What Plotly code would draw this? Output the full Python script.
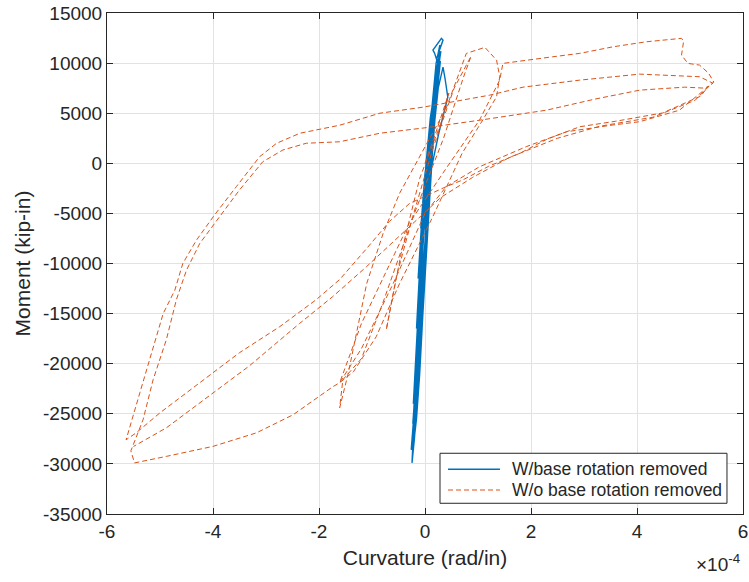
import plotly.graph_objects as go

# Curvature in units of 1e-4 rad/in, moment in kip-in
curv_with_removed = [
    0.03, 0.10, 0.16, 0.09, 0.00, -0.05, -0.08, -0.02, 0.06, 0.12, 0.18,
    0.12, 0.04, -0.03, -0.08, -0.12, -0.13, -0.07, 0.02, 0.09, 0.15, 0.22, 0.26,
    0.20, 0.10, 0.02, -0.04, -0.09, -0.13, -0.16, -0.10, -0.02, 0.05, 0.11, 0.17, 0.23, 0.27, 0.29,
    0.22, 0.12, 0.04, -0.03, -0.08, -0.13, -0.17, -0.19, -0.13, -0.06, 0.01, 0.07, 0.13, 0.19, 0.24,
    0.18, 0.15, 0.31, 0.34, 0.22, 0.28,
    0.24, 0.14, 0.05, -0.02, -0.07, -0.12, -0.16, -0.20, -0.23, -0.245,
    -0.20, -0.14, -0.08, -0.02, 0.04, 0.10, 0.17, 0.25, 0.34, 0.38, 0.43, 0.38,
    0.26, 0.12, 0.04, -0.03, -0.09, -0.14, -0.18, -0.21,
    -0.16, -0.10, -0.04, 0.02, 0.08, 0.14, 0.21, 0.26, 0.29,
    0.20, 0.11, 0.03, -0.04, -0.10, -0.15, -0.20, -0.22,
    -0.16, -0.09, -0.02, 0.05, 0.11, 0.17, 0.23, 0.28,
    0.21, 0.13, 0.05, -0.02, -0.08, -0.13, -0.18, -0.21, -0.23,
    -0.18, -0.12, -0.05, 0.01, 0.07, 0.13, 0.19, 0.25, 0.30,
    0.24, 0.16, 0.07, -0.01, -0.06, -0.11, -0.16, -0.20, -0.24, -0.26,
    -0.21, -0.15, -0.09, -0.03, 0.03, 0.09, 0.16, 0.22, 0.26,
    0.19, 0.09, 0.00, -0.06, -0.11, -0.15, -0.18,
    -0.12, -0.05, 0.02, 0.09, 0.15, 0.20, 0.16, 0.08, 0.02,
]
moment_with_removed = [
    0, 2000, 4000, 2000, -1000, -4000, -6500, -4000, -1000, 2500, 5500,
    4000, 1000, -3000, -7000, -10000, -11500, -9000, -5000, -1000, 3000, 6500, 9000,
    8000, 4500, 0, -4500, -9500, -13500, -16500, -14000, -9500, -5000, -500, 4000, 8000, 10000, 11000,
    9500, 5000, 500, -4500, -10000, -15000, -19000, -21500, -19000, -14000, -9000, -4000, 1000, 6000, 10000,
    11000, 11300, 12470, 12300, 10470, 9800,
    8000, 4000, -500, -5000, -10000, -15500, -20000, -24000, -27500, -29900,
    -27500, -23500, -18000, -12000, -6500, -1500, 3500, 7500, 9600, 8400, 6600, 5500,
    3000, -500, -5000, -10500, -16000, -21000, -25000, -27800,
    -25500, -21000, -15000, -9500, -4000, 1000, 6000, 9000, 10200,
    8500, 4000, -500, -6000, -12000, -17500, -22000, -24000,
    -22000, -17000, -11500, -6000, -1000, 4000, 8500, 11800,
    10000, 5500, 1000, -4000, -10000, -15500, -21000, -24500, -26000,
    -24500, -20000, -14000, -8500, -3000, 2000, 6000, 9500, 11200,
    9500, 5000, 0, -5500, -11000, -16500, -21000, -24500, -27000, -28600,
    -26000, -21500, -16000, -10500, -5000, 500, 5500, 9000, 10500,
    8000, 2500, -3500, -9000, -14500, -19000, -22000,
    -18000, -12000, -6000, -500, 4000, 7500, 5500, 1000, -2500,
]

curv_without_removed = [
    # small and medium cycles
    0.00, 0.20, 0.45, 0.30, -0.10, -0.45, -0.73, -0.54, -0.23, 0.15, 0.55, 0.87, 0.72,
    0.35, -0.20, -0.80, -1.20, -1.55, -1.61, -1.45, -1.10, -0.79, -0.48, -0.10, 0.40,
    0.78, 1.13, 1.35, 1.41, 1.35, 1.09, 0.70, 0.15, -0.48, -0.92, -1.35, -1.61,
    -1.20, -0.30, 0.40,
    # first large positive excursion
    1.03, 1.22, 1.41, 1.47, 1.91, 2.41, 2.92, 3.55, 4.18, 4.84, 4.88, 4.84, 4.96,
    5.18, 5.35, 5.45, 5.30,
    4.80, 4.05, 3.54, 2.67, 1.91, 1.03, 0.40,
    0.00, -0.60, -1.20, -1.61,
    # first large negative excursion
    -1.74, -2.49, -3.18, -4.00, -4.88, -5.48, -5.55, -5.45,
    -5.32, -5.13, -4.88, -4.69, -4.50, -4.25, -3.87, -3.50, -3.06, -2.68, -2.24, -1.61,
    -0.85, 0.09, 1.03, 2.29, 3.20, 4.05, 4.90, 5.28, 5.35, 5.20,
    4.48, 3.60, 2.92, 2.30, 1.79, 1.20, 0.71, 0.40,
    -0.29, -0.67, -1.10, -1.61, -2.05, -2.74, -3.50, -4.25, -5.00, -5.45, -5.64,
    -5.38, -5.16, -4.94, -4.72, -4.57, -4.31, -3.97, -3.56, -3.12, -2.80, -2.36, -1.61,
    -0.85, -0.04, 0.71, 1.22, 1.85, 2.92, 4.05, 5.18, 5.43, 5.28,
    5.10, 4.30, 3.30, 2.50, 1.60, 0.90, 0.30,
    -0.50, -1.10, -1.74, -2.37, -3.31, -4.10, -4.88, -5.50,
]
moment_without_removed = [
    0, 3000, 7000, 4000, -1500, -9000, -16600, -11300, -5300, 1500, 7500, 10700, 8500,
    2500, -5000, -14000, -19500, -21600, -24400, -21000, -12000, -7000, -3000, 700, 5500,
    10970, 11570, 10300, 8640, 6640, 4320, 1000, -5300, -12000, -17300, -20800, -21900,
    -16000, -6000, -500,
    4330, 6320, 8310, 9970, 10300, 10630, 10970, 11630, 12130, 12470, 12200, 10800, 9970,
    9800, 9000, 8100, 7450,
    5300, 4150, 3820, 3150, 1660, -340, -2330,
    -5000, -12000, -18500, -21900,
    -22300, -25100, -26900, -28250, -29250, -29900, -28700, -27300,
    -25600, -21600, -17600, -13600, -10660, -8000, -5320, -2660, 160, 1330, 2000, 2150,
    3000, 3600, 4300, 5300, 6400, 7300, 7600, 7500, 7700, 6700,
    5020, 4200, 3650, 2400, 1000, -300, -1670, -2330,
    -4000, -5800, -8500, -11600, -13600, -16300, -18900, -21900, -24900, -26900, -27600,
    -22900, -18900, -15000, -12660, -10000, -7650, -5150, -2330, 660, 2000, 3000, 3800,
    5000, 5600, 6300, 6800, 7600, 8300, 8900, 8640, 8000, 7300,
    6300, 4600, 3700, 2500, 600, -1400, -3400,
    -7400, -10300, -13300, -16000, -20200, -23300, -26400, -28260,
]

x_ticks = [-6, -4, -2, 0, 2, 4, 6]
y_ticks = [-35000, -30000, -25000, -20000, -15000, -10000, -5000, 0, 5000, 10000, 15000]
series_names = ["W/base rotation removed", "W/o base rotation removed"]

BLUE = "#0072BD"
ORANGE = "#D95319"
INK = "#262626"
FONT = "Liberation Sans, Arial, sans-serif"

fig = go.Figure()
fig.add_trace(go.Scatter(
    x=curv_with_removed, y=moment_with_removed, mode="lines",
    name=series_names[0], line=dict(color=BLUE, width=1.4),
))
fig.add_trace(go.Scatter(
    x=curv_without_removed, y=moment_without_removed, mode="lines",
    name=series_names[1], line=dict(color=ORANGE, width=1, dash="5px,3px"),
))

axis_common = dict(
    showline=True, linecolor=INK, linewidth=1, mirror="ticks",
    ticks="inside", ticklen=6, tickcolor=INK, tickwidth=1,
    showgrid=True, gridcolor="#e2e2e2", gridwidth=1, zeroline=False,
    tickfont=dict(family=FONT, size=19, color=INK),
    automargin=False,
)

fig.update_layout(
    width=749, height=582,
    margin=dict(l=107, r=6, t=13, b=68),
    paper_bgcolor="white", plot_bgcolor="white",
    showlegend=False,
    xaxis=dict(
        range=[-6, 6], tickvals=x_ticks, ticktext=[str(v) for v in x_ticks],
        title=dict(text="Curvature (rad/in)", font=dict(family=FONT, size=21, color=INK), standoff=9),
        **axis_common,
    ),
    yaxis=dict(
        range=[-35000, 15000], tickvals=y_ticks, ticktext=[str(v) for v in y_ticks],
        title=dict(text="Moment (kip-in)", font=dict(family=FONT, size=21, color=INK), standoff=6),
        **axis_common,
    ),
)

# exponent multiplier of the curvature axis
fig.add_annotation(
    text="×10<sup>-4</sup>", xref="paper", yref="paper", x=0.999, y=-0.098,
    xanchor="right", yanchor="middle", showarrow=False,
    font=dict(family=FONT, size=19, color=INK),
)

# legend box drawn in the lower right corner of the axes
lx0, lx1, ly0, ly1 = 0.5236, 0.9748, 0.0214, 0.1212
fig.add_shape(type="rect", xref="paper", yref="paper", x0=lx0, x1=lx1, y0=ly0, y1=ly1,
              line=dict(color=INK, width=1), fillcolor="white", layer="above")
rows = [0.0892, 0.0479]
styles = [dict(color=BLUE, width=1.4), dict(color=ORANGE, width=1, dash="5px,3px")]
for name, yy, st in zip(series_names, rows, styles):
    fig.add_shape(type="line", xref="paper", yref="paper", x0=0.5362, x1=0.6179, y0=yy, y1=yy,
                  line=st, layer="above")
    fig.add_annotation(text=name, xref="paper", yref="paper", x=0.6336, y=yy,
                       xanchor="left", yanchor="middle", showarrow=False,
                       font=dict(family=FONT, size=17.5, color=INK))

fig.write_html("out.html")
